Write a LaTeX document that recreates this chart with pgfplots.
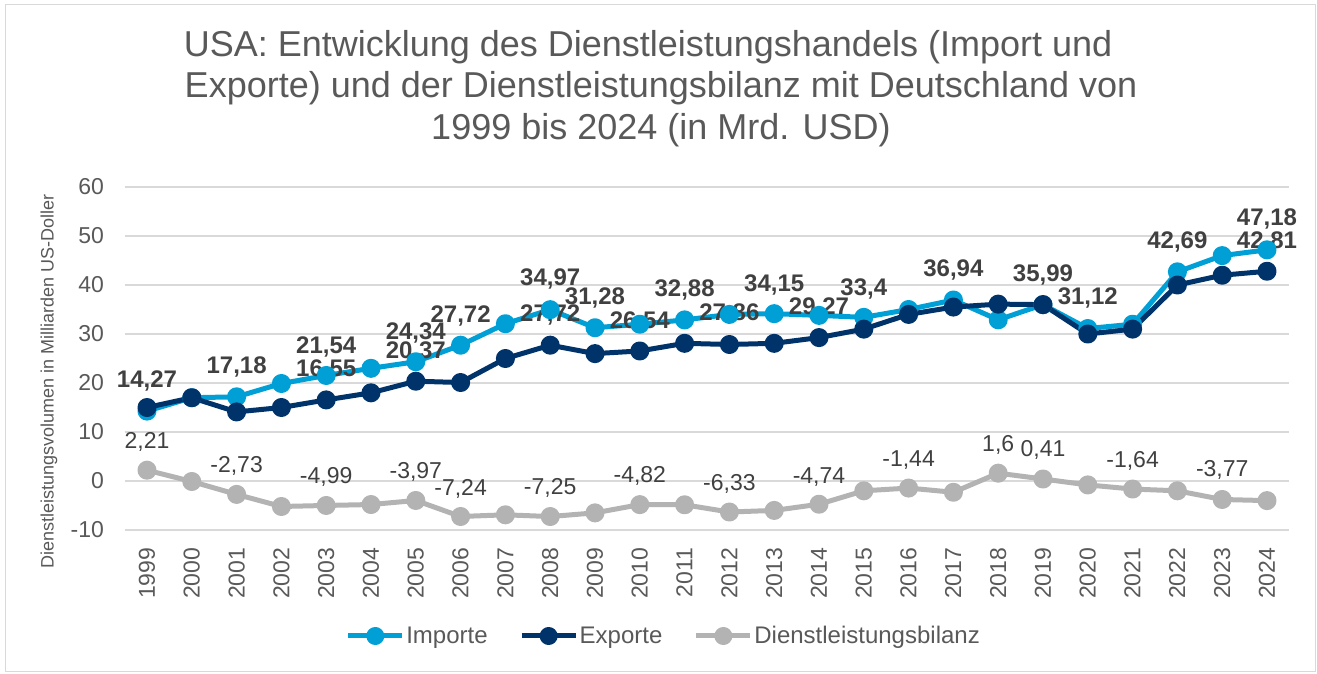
\documentclass[border=0pt]{standalone}
\usepackage{fontspec}
\setmainfont{Liberation Sans}
\usepackage{pgfplots}
\pgfplotsset{compat=1.18}
\definecolor{imp}{HTML}{00A0D6}
\definecolor{exps}{HTML}{00336A}
\definecolor{bil}{HTML}{B3B3B3}
\definecolor{txt}{HTML}{595959}
\definecolor{lab}{HTML}{404040}
\definecolor{grd}{HTML}{D9D9D9}
\newcommand{\fs}[1]{\fontsize{#1}{#1}\selectfont}
\begin{document}
\begin{tikzpicture}
\path[use as bounding box] (0pt,0pt) rectangle (1317pt,-673pt);
\draw[grd, line width=1.5pt] (5.5pt,-4.5pt) rectangle (1315.5pt,-671.5pt);
\node[anchor=base, txt, font=\fs{36}] at (648pt,-56pt) {USA: Entwicklung des Dienstleistungshandels (Import und};
\node[anchor=base, txt, font=\fs{36}] at (661pt,-97.5pt) {Exporte) und der Dienstleistungsbilanz mit Deutschland von};
\node[anchor=base, txt, font=\fs{36}] at (661pt,-139pt) {1999 bis 2024 (in Mrd. USD)};
\node[rotate=90, txt, font=\fs{18}] at (49pt,-381pt) {Dienstleistungsvolumen in Milliarden US-Doller};
\begin{axis}[
  at={(124.6pt,-530pt)}, anchor=south west,
  scale only axis, width=1164.8pt, height=343pt,
  xmin=1998.5, xmax=2024.5, ymin=-10, ymax=60,
  xtick={1999,...,2024}, ytick={-10,0,...,60},
  ymajorgrids, grid style={grd, line width=1.5pt},
  axis line style={draw=none}, major tick length=0pt,
  clip=false,
  /pgf/number format/assume math mode=true,
  /pgf/number format/1000 sep={},
  tick label style={txt, font=\fs{23}, inner sep=0pt},
  yticklabel style={xshift=-20.5pt},
  xticklabel style={rotate=90, anchor=east, xshift=-17.5pt},
  legend style={at={(0.4627,-0.309)}, anchor=center, draw=none, fill=none,
    legend columns=3, font=\fs{24}, text=txt, nodes={inner sep=1.5pt},
    /tikz/every even column/.append style={column sep=30pt}},
  legend image code/.code={\draw[#1, line width=5pt] (0pt,0pt) -- (54pt,0pt);
    \fill[#1] (27pt,0pt) circle (6.5pt);},
]
\addplot[imp, line width=5pt, line join=round, mark=*, mark size=7pt,
  mark options={solid, fill=imp, draw=none}] coordinates {
(1999,14.27) (2000,17.0) (2001,17.18) (2002,19.9) (2003,21.54) (2004,23.0)
(2005,24.34) (2006,27.72) (2007,32.1) (2008,34.97) (2009,31.28) (2010,32.0)
(2011,32.88) (2012,34.0) (2013,34.15) (2014,33.8) (2015,33.4) (2016,35.0)
(2017,36.94) (2018,32.9) (2019,35.99) (2020,31.12) (2021,32.0) (2022,42.69)
(2023,46.0) (2024,47.18)};
\addlegendentry{Importe}
\addplot[exps, line width=5pt, line join=round, mark=*, mark size=7pt,
  mark options={solid, fill=exps, draw=none}] coordinates {
(1999,15.0) (2000,17.0) (2001,14.1) (2002,15.0) (2003,16.55) (2004,18.0)
(2005,20.37) (2006,20.1) (2007,25.0) (2008,27.72) (2009,26.0) (2010,26.54)
(2011,28.1) (2012,27.86) (2013,28.1) (2014,29.27) (2015,31.0) (2016,34.0)
(2017,35.5) (2018,36.1) (2019,36.0) (2020,30.0) (2021,31.0) (2022,40.0)
(2023,42.0) (2024,42.81)};
\addlegendentry{Exporte}
\addplot[bil, line width=5pt, line join=round, mark=*, mark size=7pt,
  mark options={solid, fill=bil, draw=none}] coordinates {
(1999,2.21) (2000,-0.1) (2001,-2.73) (2002,-5.2) (2003,-4.99) (2004,-4.8)
(2005,-3.97) (2006,-7.24) (2007,-6.9) (2008,-7.25) (2009,-6.5) (2010,-4.82)
(2011,-4.85) (2012,-6.33) (2013,-6.0) (2014,-4.74) (2015,-2.0) (2016,-1.44)
(2017,-2.3) (2018,1.6) (2019,0.41) (2020,-0.8) (2021,-1.64) (2022,-2.0)
(2023,-3.77) (2024,-4.0)};
\addlegendentry{Dienstleistungsbilanz}
% bold labels
\begin{scope}[every node/.style={lab, font=\fs{24}\bfseries, inner sep=0pt}]
\node at (axis cs:1999,20.4) {14,27};
\node at (axis cs:2001,23.3) {17,18};
\node at (axis cs:2003,27.3) {21,54};
\node at (axis cs:2003,22.7) {16,55};
\node at (axis cs:2005,30.2) {24,34};
\node at (axis cs:2005,26.3) {20,37};
\node at (axis cs:2006,33.7) {27,72};
\node at (axis cs:2008,41.2) {34,97};
\node at (axis cs:2008,33.9) {27,72};
\node at (axis cs:2009,37.3) {31,28};
\node at (axis cs:2010,32.4) {26,54};
\node at (axis cs:2011,39.0) {32,88};
\node at (axis cs:2012,34.1) {27,86};
\node at (axis cs:2013,40.0) {34,15};
\node at (axis cs:2014,35.3) {29,27};
\node at (axis cs:2015,39.2) {33,4};
\node at (axis cs:2017,43.1) {36,94};
\node at (axis cs:2019,42.0) {35,99};
\node at (axis cs:2020,37.3) {31,12};
\node at (axis cs:2022,48.8) {42,69};
\node at (axis cs:2024,53.5) {47,18};
\node at (axis cs:2024,48.8) {42,81};
\end{scope}
\begin{scope}[every node/.style={lab, font=\fs{23}, inner sep=0pt}]
\node at (axis cs:1999,8.0) {2,21};
\node at (axis cs:2001,3.1) {-2,73};
\node at (axis cs:2003,0.8) {-4,99};
\node at (axis cs:2005,1.8) {-3,97};
\node at (axis cs:2006,-1.6) {-7,24};
\node at (axis cs:2008,-1.4) {-7,25};
\node at (axis cs:2010,1.0) {-4,82};
\node at (axis cs:2012,-0.6) {-6,33};
\node at (axis cs:2014,0.8) {-4,74};
\node at (axis cs:2016,4.3) {-1,44};
\node at (axis cs:2018,7.3) {1,6};
\node at (axis cs:2019,6.3) {0,41};
\node at (axis cs:2021,4.1) {-1,64};
\node at (axis cs:2023,2.2) {-3,77};
\end{scope}
\end{axis}
\end{tikzpicture}
\end{document}
